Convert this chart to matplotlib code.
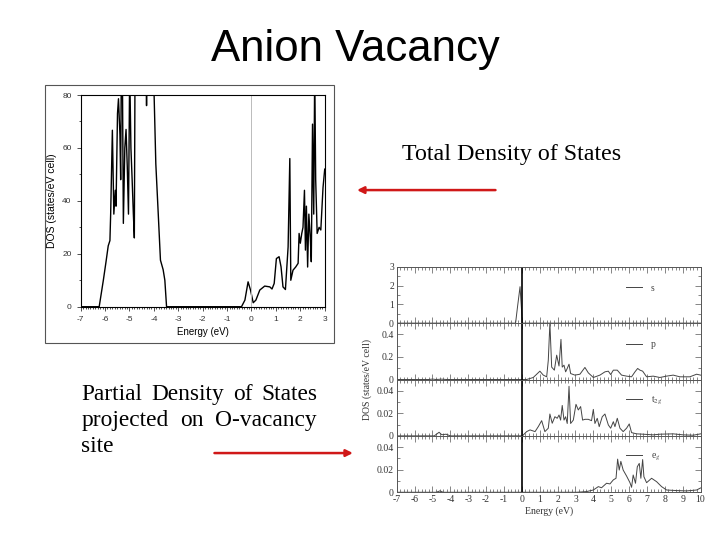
import matplotlib
matplotlib.use("Agg")
import matplotlib.pyplot as plt
from matplotlib.patches import Rectangle, FancyArrowPatch
from matplotlib.ticker import MultipleLocator

plt.rcParams["axes.unicode_minus"] = False
plt.rcParams["mathtext.fontset"] = "stix"

# total DOS (top-left picture)
tdos_e = [-7.0, -6.24, -6.07, -5.96, -5.87, -5.80, -5.77, -5.70, -5.64, -5.58,
          -5.55, -5.49, -5.45, -5.39, -5.36, -5.33, -5.29, -5.25, -5.19, -5.14,
          -5.09, -5.04, -4.99, -4.94, -4.89, -4.84, -4.80, -4.77, -4.71, -4.50,
          -4.32, -4.30, -4.28, -4.10, -3.99, -3.92, -3.82, -3.73, -3.62, -3.55,
          -3.48, -0.41, -0.27, -0.14, -0.04, 0.07, 0.18, 0.34, 0.54, 0.75,
          0.84, 0.93, 1.02, 1.13, 1.21, 1.29, 1.39, 1.50, 1.57, 1.61,
          1.70, 1.81, 1.91, 1.95, 2.00, 2.06, 2.11, 2.17, 2.21, 2.25,
          2.30, 2.35, 2.41, 2.45, 2.50, 2.55, 2.59, 2.63, 2.69, 2.77,
          2.84, 2.93, 3.0]
tdos = [0, 0, 10, 17, 23, 25, 35, 66.7, 35, 44,
        38, 73, 78.6, 65, 48, 95, 90, 31.5, 60, 67,
        53, 35, 90, 60, 48, 35, 26, 95, 100, 105,
        100, 76, 100, 100, 80, 54, 35, 17.6, 14, 10,
        0, 0, 2.5, 9.4, 6.3, 1.5, 2.5, 6.3, 7.8, 7.5,
        6.7, 8.8, 18.2, 18.9, 15.1, 7.5, 6.5, 22.6, 56, 10,
        13.8, 15, 16.4, 27.7, 24, 27.7, 30, 44, 21.4, 38,
        15, 35, 26, 17, 69, 35, 90, 48, 27.7, 30,
        29, 45, 52]

# partial DOS on the O-vacancy site (bottom-right picture)
s_e = [-7.0, -0.35, -0.25, -0.10, 0.03, 10.0]
s_dos = [0, 0, 0.8, 1.94, 0, 0]

p_e = [-7.0, -5.2, -5.0, -4.8, -4.5, -4.2, 0.27, 0.64, 1.01, 1.20,
       1.39, 1.48, 1.57, 1.67, 1.82, 1.95, 2.08, 2.19, 2.26, 2.36,
       2.45, 2.54, 2.64, 2.73, 2.97, 3.25, 3.53, 3.72, 4.00, 4.37,
       4.65, 4.84, 4.97, 5.12, 5.34, 5.58, 5.86, 6.14, 6.33, 6.48,
       6.61, 6.76, 6.98, 7.35, 7.72, 8.10, 8.47, 8.84, 9.40, 9.78, 10.0]
p_dos = [0, 0, 0.004, 0, 0.003, 0, 0, 0.018, 0.074, 0.039,
         0.024, 0.17, 0.5, 0.11, 0.083, 0.216, 0.12, 0.356, 0.11, 0.127,
         0.068, 0.098, 0.136, 0.053, 0.039, 0.047, 0.107, 0.059, 0.018, 0.039,
         0.068, 0.074, 0.044, 0.083, 0.083, 0.039, 0.03, 0.024, 0.068, 0.098,
         0.083, 0.074, 0.024, 0.03, 0.018, 0.03, 0.039, 0.024, 0.024, 0.047, 0.039]

t2g_e = [-7.0, -4.9, -4.63, -4.48, -4.24, -4.0, 0.03, 0.27, 0.46, 0.74,
         0.92, 1.11, 1.29, 1.48, 1.57, 1.70, 1.85, 1.98, 2.08, 2.17,
         2.26, 2.36, 2.45, 2.54, 2.64, 2.73, 2.88, 3.03, 3.16, 3.29,
         3.40, 3.53, 3.72, 3.90, 4.00, 4.09, 4.22, 4.33, 4.50, 4.65,
         4.84, 4.97, 5.12, 5.21, 5.34, 5.49, 5.67, 5.86, 6.01, 6.14,
         6.42, 6.79, 7.35, 7.72, 8.47, 9.03, 9.59, 10.0]
t2g_dos = [0, 0, 0.0032, 0.001, 0.0015, 0, 0, 0.0038, 0.0053, 0.0038,
           0.0082, 0.0135, 0.0038, 0.0068, 0.0194, 0.0112, 0.017, 0.0156, 0.0185, 0.014,
           0.027, 0.014, 0.017, 0.011, 0.044, 0.011, 0.014, 0.028, 0.023, 0.026,
           0.014, 0.0147, 0.0147, 0.0135, 0.0235, 0.011, 0.0156, 0.0082, 0.017, 0.0194,
           0.0097, 0.0068, 0.0126, 0.0082, 0.0156, 0.0068, 0.0038, 0.0068, 0.0106, 0.0029,
           0.0018, 0.0015, 0.0009, 0.0015, 0.0018, 0.0009, 0.0006, 0.0018]

eg_e = [-7.0, -4.8, -4.58, -4.4, 3.07, 3.62, 4.00, 4.28, 4.46, 4.74,
        4.93, 5.12, 5.27, 5.36, 5.45, 5.54, 5.67, 5.86, 6.05, 6.14,
        6.23, 6.36, 6.46, 6.57, 6.66, 6.76, 6.83, 6.98, 7.26, 7.54,
        7.82, 8.10, 8.66, 9.22, 9.78, 10.0]
eg_dos = [0, 0, 0.0012, 0, 0, 0.0006, 0.002, 0.005, 0.004, 0.008,
          0.0074, 0.011, 0.0124, 0.0294, 0.0197, 0.0274, 0.0197, 0.0144, 0.0085, 0.0044,
          0.0153, 0.008, 0.0226, 0.0256, 0.0124, 0.029, 0.0138, 0.0085, 0.0124, 0.0094,
          0.005, 0.002, 0.0015, 0.0012, 0.002, 0.0038]

paneles = [
    (s_e, s_dos, "s", 3.0, [0, 1, 2, 3], ["0", "1", "2", "3"], 0.5),
    (p_e, p_dos, "p", 0.5, [0, 0.2, 0.4], ["0", "0.2", "0.4"], 0.1),
    (t2g_e, t2g_dos, "t$_{2g}$", 0.05, [0, 0.02, 0.04], ["0", "0.02", "0.04"], 0.01),
    (eg_e, eg_dos, "e$_g$", 0.05, [0, 0.02, 0.04], ["0", "0.02", "0.04"], 0.01),
]

# texto de la izquierda, palabra por palabra (justificado como en la diapositiva)
renglon1 = ["Partial", "Density", "of", "States"]
renglon2 = ["projected", "on", "O-vacancy"]
renglon3 = ["site"]

fig = plt.figure(figsize=(7.2, 5.4), dpi=100)
sans = "Liberation Sans"
serif = "Liberation Serif"

# slide texts
fig.text(0.493, 0.908, "Anion Vacancy", fontsize=31.5, family=sans,
         ha="center", va="center")
fig.text(0.559, 0.713, "Total Density of States", fontsize=17.3, family=serif,
         ha="left", va="center")

# x de cada palabra en pixeles; la ultima palabra va alineada a la derecha
x_r1 = [81.5, 151, 233, 317]
x_r2 = [81.5, 180.5, 317]
x_r3 = [81.5]
for palabras, xs, y in [(renglon1, x_r1, 400), (renglon2, x_r2, 426),
                        (renglon3, x_r3, 452)]:
    n = len(palabras)
    for k, (w, x) in enumerate(zip(palabras, xs)):
        ha = "right" if (n > 1 and k == n - 1) else "left"
        fig.text(x / 720, 1 - y / 540, w, fontsize=16.8, family=serif,
                 ha=ha, va="baseline")

rojo = "#d01818"
fig.patches.append(FancyArrowPatch((0.692, 0.648), (0.492, 0.648),
                                   transform=fig.transFigure, figure=fig,
                                   arrowstyle="-|>,head_length=4,head_width=2",
                                   color=rojo, lw=1.8))
fig.patches.append(FancyArrowPatch((0.294, 0.161), (0.494, 0.161),
                                   transform=fig.transFigure, figure=fig,
                                   arrowstyle="-|>,head_length=4,head_width=2",
                                   color=rojo, lw=1.8))

# frame around the total DOS picture
fig.patches.append(Rectangle((0.0625, 0.365), 0.401, 0.478, transform=fig.transFigure,
                             figure=fig, fill=False, edgecolor="#555555", lw=0.8))

# total DOS
ax = fig.add_axes([0.112, 0.432, 0.339, 0.392])
ax.plot(tdos_e, tdos, color="black", lw=1.0)
ax.axvline(0, color="#bbbbbb", lw=0.7)
ax.set_xlim(-7, 3)
ax.set_ylim(0, 80)
ax.set_xticks(range(-7, 4))
ax.set_yticks([0, 20, 40, 60, 80])
ax.xaxis.set_minor_locator(MultipleLocator(0.1))
ax.yaxis.set_minor_locator(MultipleLocator(10))
ax.tick_params(which="both", direction="out", labelsize=6, colors="#333333",
               width=0.6)
ax.tick_params(which="major", length=3)
ax.tick_params(which="minor", length=1.5)
for lab in ax.get_xticklabels() + ax.get_yticklabels():
    lab.set_family(sans)
ax.set_xlabel("Energy (eV)", fontsize=7, family=sans, labelpad=3)
ax.set_ylabel("DOS (states/eV cell)", fontsize=7.5, family=sans, labelpad=4)
for sp in ax.spines.values():
    sp.set_linewidth(0.8)

# partial DOS, four stacked panels
alto = 0.1044
for i, (xe, yd, nombre, ymax, yt, ytl, ymin_step) in enumerate(paneles):
    abajo = 0.506 - alto * (i + 1)
    a = fig.add_axes([0.551, abajo, 0.422, alto])
    a.plot(xe, yd, color="#444444", lw=0.7, label=nombre)
    a.axvline(0, color="black", lw=1.2)
    a.set_xlim(-7, 10)
    a.set_ylim(0, ymax)
    a.set_xticks(range(-7, 11))
    a.xaxis.set_minor_locator(MultipleLocator(0.2))
    a.set_yticks(yt)
    a.set_yticklabels(ytl)
    a.yaxis.set_minor_locator(MultipleLocator(ymin_step))
    a.tick_params(which="both", direction="in", top=True, right=True,
                  colors="#555555", labelsize=7, width=0.5, pad=2)
    a.tick_params(which="major", length=4)
    a.tick_params(which="minor", length=2)
    for lab in a.get_yticklabels() + a.get_xticklabels():
        lab.set_family(serif)
        lab.set_color("#333333")
    if i < 3:
        a.tick_params(axis="x", labelbottom=False)
    else:
        a.set_xlabel("Energy (eV)", fontsize=7, family=serif, color="#333333",
                     labelpad=2)
    for sp in a.spines.values():
        sp.set_linewidth(0.7)
        sp.set_color("#555555")
    leg = a.legend(loc="center left", bbox_to_anchor=(0.74, 0.62), frameon=False,
                   handlelength=1.6, handletextpad=0.9, borderpad=0,
                   prop={"family": serif, "size": 7})
    for t in leg.get_texts():
        t.set_color("#444444")

fig.text(0.510, 0.297, "DOS (states/eV cell)", rotation=90, fontsize=7,
         family=serif, color="#333333", ha="center", va="center")

fig.savefig("out.png", dpi=100)
